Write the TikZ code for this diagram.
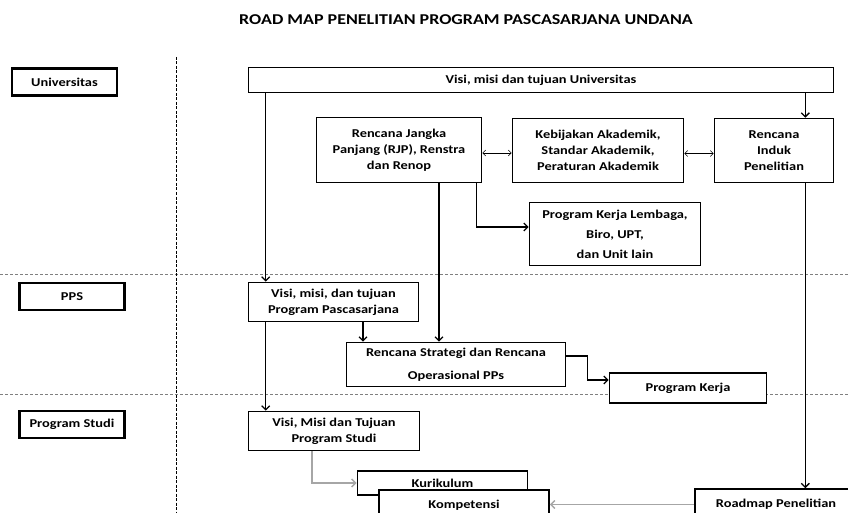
\documentclass[tikz,border=0pt]{standalone}
\usepackage{fontspec}
\setmainfont[FakeStretch=1.2]{Carlito}
\usetikzlibrary{arrows.meta}

\begin{document}
\begin{tikzpicture}[x=1pt,y=-1pt,>={Straight Barb[length=4pt,width=8pt]},
	box/.style={draw, line width=1.6pt, fill=white, align=center, inner sep=0pt, font=\fontsize{12}{16}\selectfont\bfseries},
	levelbox/.style={box, line width=2.4pt, minimum width=105, minimum height=27},
	flow/.style={->, line width=1.3pt},
	dual/.style={<->, line width=0.6pt, >={Straight Barb[length=3pt,width=6pt]}},
	grayflow/.style={->, line width=1.4pt, gray!70}]
	
	\useasboundingbox (0,0) rectangle (848,513);
	\clip (0,0) rectangle (848,513);
	
	% Title
	\node[font=\fontsize{15}{18}\selectfont\bfseries] (title) at (466,20) {ROAD MAP PENELITIAN PROGRAM PASCASARJANA UNDANA};
	
	% Draw the lanes
	\draw[gray, line width=0.8pt, dash pattern=on 3pt off 2pt] (0,274) -- (848,274);
	\draw[gray, line width=0.8pt, dash pattern=on 3pt off 2pt] (0,394) -- (848,394);
	\draw[line width=1pt, dash pattern=on 3pt off 1.5pt] (176,57) -- (176,513);
	
	% Level labels
	\node[levelbox] (univ) at (64.5,82) {Universitas};
	\node[levelbox] (pps) at (72,296.5) {PPS};
	\node[levelbox] (prodi) at (72,424.5) {Program Studi};
	
	% Universitas
	\node[box, minimum width=585, minimum height=25] (visiU) at (541,80) {Visi, misi dan tujuan Universitas};
	\node[box, minimum width=165, minimum height=65] (rjp) at (399,150) {Rencana Jangka\\Panjang (RJP), Renstra\\dan Renop};
	\node[box, minimum width=171, minimum height=64] (kebijakan) at (598,150.5) {Kebijakan Akademik,\\Standar Akademik,\\Peraturan Akademik};
	\node[box, minimum width=119, minimum height=64] (induk) at (774,150.5) {Rencana\\Induk\\Penelitian};
	\node[box, minimum width=171, minimum height=63] (pkl) at (615,234) {Program Kerja Lembaga,\\[4pt]Biro, UPT,\\[4pt]dan Unit lain};
	
	% PPS
	\node[box, minimum width=170, minimum height=39] (visiP) at (333.5,302) {Visi, misi, dan tujuan\\Program Pascasarjana};
	\node[box, minimum width=219, minimum height=44] (renstra) at (456,364.5) {Rencana Strategi dan Rencana\\[7pt]Operasional PPs};
	\node[box, minimum width=157, minimum height=30] (progkerja) at (688,388) {Program Kerja};
	
	% Program Studi
	\node[box, minimum width=171, minimum height=39] (visiS) at (334,431) {Visi, Misi dan Tujuan\\Program Studi};
	\node[box, minimum width=170, minimum height=24] (kurikulum) at (442.5,483) {Kurikulum};
	\node[box, minimum width=170, minimum height=30] (kompetensi) at (464,505) {Kompetensi};
	\node[box, minimum width=162, minimum height=31] (roadmap) at (776,504.5) {Roadmap Penelitian};
	
	% Connectors
	\coordinate (indukout) at ([xshift=-29]induk.south east);
	\coordinate (rjpout) at ([xshift=40]rjp.south);
	\coordinate (visiPout) at ([xshift=29.5]visiP.south);
	
	\draw[flow] ([xshift=18]visiU.south west) -- ([xshift=18]visiP.north west);
	\draw[flow] ([xshift=-29]visiU.south east) -- ([xshift=-29]induk.north east);
	\draw[dual] ([yshift=-3]rjp.east) -- ([yshift=-3]rjp.east -| kebijakan.west);
	\draw[dual] ([yshift=-3]kebijakan.east) -- ([yshift=-3]kebijakan.east -| induk.west);
	\draw[flow] ([xshift=-6]rjp.south east) |- ([yshift=7]pkl.west);
	\draw[flow] (rjpout) -- (rjpout |- renstra.north);
	\draw[flow] (visiPout) -- (visiPout |- renstra.north);
	\draw[flow] ([yshift=8.5]renstra.east) -- ++(21,0) |- ([yshift=8]progkerja.west);
	\draw[flow] (indukout) -- (indukout |- roadmap.north);
	\draw[flow] ([xshift=18]visiP.south west) -- ([xshift=18]visiS.north west);
	\draw[grayflow] ([xshift=-22]visiS.south) |- (kurikulum.west);
	\draw[grayflow] (roadmap.west) -- (roadmap.west -| kompetensi.east);
	
\end{tikzpicture}
\end{document}
